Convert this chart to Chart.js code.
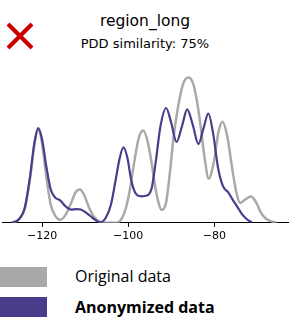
<!DOCTYPE html>
<html>
<head>
<meta charset="utf-8">
<script src="https://cdn.jsdelivr.net/npm/chart.js@4"></script>
<style>
  html, body { margin:0; padding:0; background:#fff; width:305px; height:327px; overflow:hidden; }
  #wrap { position:absolute; left:0; top:56px; width:305px; height:190px; }
  .t1 { position:absolute; left:0; width:290px; text-align:center; font-family:"DejaVu Sans"; color:#000; }
  .leg-box { position:absolute; left:0; width:47px; height:20px; }
  .leg-txt { position:absolute; left:75px; font-family:"Open Sans"; font-size:16px; color:#000; line-height:20px; }
</style>
</head>
<body>
<svg style="position:absolute;left:6px;top:22px" width="28" height="28" viewBox="0 0 28 28">
  <line x1="2" y1="2" x2="26" y2="26" stroke="#cc0000" stroke-width="4"/>
  <line x1="26" y1="2" x2="2" y2="26" stroke="#cc0000" stroke-width="4"/>
</svg>
<div class="t1" style="top:12px;font-size:15.5px;">region_long</div>
<div class="t1" style="top:36px;font-size:13px;">PDD similarity: 75%</div>
<div id="wrap"><canvas id="c"></canvas></div>
<div class="leg-box" style="top:267px;background:#a9a9a9;"></div>
<div class="leg-txt" style="top:266px;">Original data</div>
<div class="leg-box" style="top:297px;background:#483d8b;"></div>
<div class="leg-txt" style="top:297px;font-weight:bold;">Anonymized data</div>
<script>
const xTicks = [-120, -100, -80];

const origX = [-127.0,-125.5,-124.0,-122.8,-121.8,-120.9,-120.0,-119.0,-118.0,-116.8,-115.8,-114.5,-113.2,-112.2,-111.2,-110.2,-109.0,-107.8,-106.5,-105.0,-102.7,-101.5,-100.5,-99.6,-98.5,-97.5,-96.5,-95.5,-94.5,-93.5,-92.2,-91.2,-90.3,-89.5,-88.5,-87.2,-86.0,-84.8,-83.5,-82.3,-81.3,-80.2,-79.0,-78.1,-77.0,-75.8,-74.8,-74.0,-72.8,-71.5,-70.3,-69.2,-68.0,-66.5,-65.5];
const origY = [0,0.03,0.14,0.43,0.76,0.91,0.78,0.45,0.18,0.06,0.03,0.08,0.20,0.30,0.327,0.27,0.14,0.05,0.01,0,0,0.04,0.15,0.33,0.62,0.84,0.907,0.80,0.57,0.30,0.127,0.20,0.50,0.83,1.12,1.37,1.427,1.35,1.05,0.65,0.433,0.58,0.90,0.993,0.85,0.52,0.28,0.195,0.23,0.257,0.20,0.10,0.04,0.01,0];

const anonX = [-127.0,-125.5,-124.0,-122.8,-121.8,-120.9,-120.0,-119.0,-118.0,-117.0,-115.8,-114.5,-113.3,-112.0,-111.0,-109.5,-108.0,-106.5,-105.2,-104.0,-103.0,-102.0,-101.1,-100.2,-99.3,-98.3,-97.0,-95.5,-94.5,-93.6,-92.5,-91.2,-90.0,-88.8,-87.5,-86.3,-85.0,-83.7,-82.5,-81.4,-80.3,-79.1,-78.0,-76.8,-75.8,-74.8,-73.5,-72.3,-71.3];
const anonY = [0,0.03,0.15,0.45,0.78,0.93,0.82,0.55,0.33,0.25,0.22,0.16,0.13,0.135,0.13,0.09,0.04,0.005,0.05,0.18,0.40,0.63,0.74,0.64,0.42,0.29,0.26,0.27,0.35,0.60,0.95,1.127,0.98,0.793,0.95,1.113,0.96,0.773,0.93,1.073,0.88,0.53,0.36,0.30,0.23,0.167,0.08,0.03,0.005];

const toPts = (xs, ys) => xs.map((x, i) => ({x, y: ys[i]}));

new Chart(document.getElementById('c'), {
  type: 'line',
  data: {
    datasets: [
      { label: 'Anonymized data', data: toPts(anonX, anonY), borderColor: '#483d8b', borderWidth: 2.2, pointRadius: 0, fill: false, cubicInterpolationMode: 'monotone' },
      { label: 'Original data', data: toPts(origX, origY), borderColor: '#a9a9a9', borderWidth: 2.5, pointRadius: 0, fill: false, cubicInterpolationMode: 'monotone' }
    ]
  },
  options: {
    responsive: true,
    maintainAspectRatio: false,
    animation: false,
    events: [],
    layout: { padding: { left: 2, right: 17, top: 14, bottom: 0 } },
    plugins: { legend: { display: false }, tooltip: { enabled: false }, title: { display: false } },
    scales: {
      x: {
        type: 'linear',
        min: -129.3,
        max: -62.9,
        afterBuildTicks: axis => { axis.ticks = xTicks.map(v => ({ value: v })); },
        grid: { display: true, drawOnChartArea: false, drawTicks: true, tickLength: 4, color: '#000', tickWidth: 1 },
        border: { display: true, color: '#000', width: 1 },
        ticks: {
          color: '#000',
          font: { family: 'DejaVu Sans', size: 11 },
          padding: 3,
          maxRotation: 0,
          callback: v => String(v).replace('-', '\u2212')
        }
      },
      y: { display: false, min: 0, max: 1.5 }
    }
  }
});
</script>
</body>
</html>
